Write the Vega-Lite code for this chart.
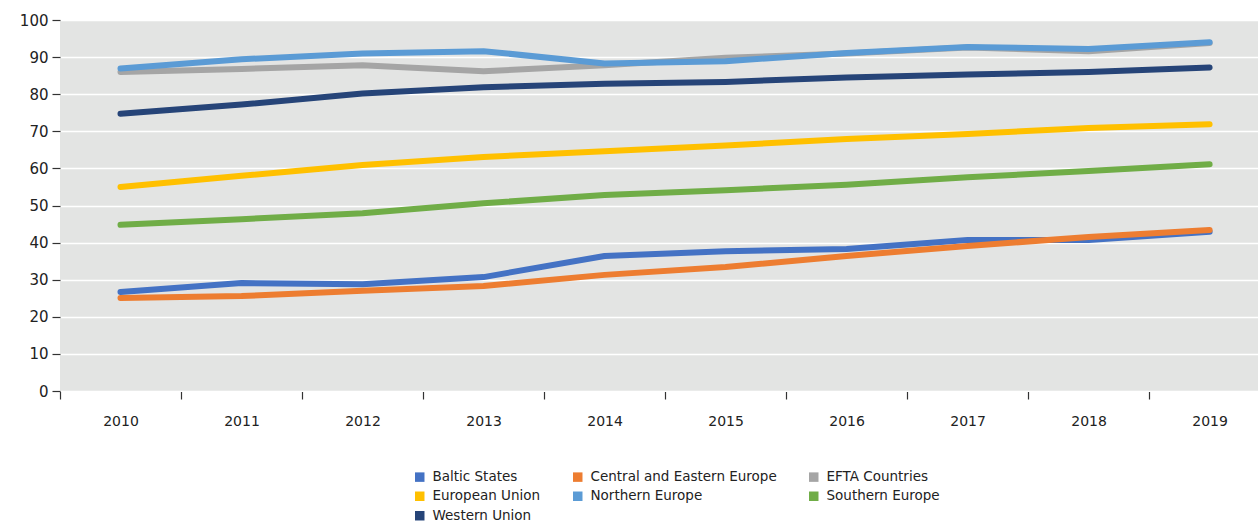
{
  "$schema": "https://vega.github.io/schema/vega-lite/v6.json",
  "width": 1198,
  "height": 371,
  "autosize": {"type": "none"},
  "padding": {"left": 60, "top": 20, "right": 0, "bottom": 131},
  "background": "white",
  "config": {
    "view": {"fill": "#e3e4e3", "stroke": null},
    "font": "DejaVu Sans",
    "axis": {"labelFont": "DejaVu Sans", "labelColor": "#222222", "labelFontSize": 14, "tickColor": "#333333", "titleColor": "#222222"}
  },
  "data": {
    "values": [
      {"year": 2010, "region": "Baltic States", "value": 26.7},
      {"year": 2011, "region": "Baltic States", "value": 29.1},
      {"year": 2012, "region": "Baltic States", "value": 28.8},
      {"year": 2013, "region": "Baltic States", "value": 30.7},
      {"year": 2014, "region": "Baltic States", "value": 36.4},
      {"year": 2015, "region": "Baltic States", "value": 37.7},
      {"year": 2016, "region": "Baltic States", "value": 38.3},
      {"year": 2017, "region": "Baltic States", "value": 40.7},
      {"year": 2018, "region": "Baltic States", "value": 40.7},
      {"year": 2019, "region": "Baltic States", "value": 42.9},
      {"year": 2010, "region": "Central and Eastern Europe", "value": 25.1},
      {"year": 2011, "region": "Central and Eastern Europe", "value": 25.6},
      {"year": 2012, "region": "Central and Eastern Europe", "value": 27.0},
      {"year": 2013, "region": "Central and Eastern Europe", "value": 28.3},
      {"year": 2014, "region": "Central and Eastern Europe", "value": 31.3},
      {"year": 2015, "region": "Central and Eastern Europe", "value": 33.4},
      {"year": 2016, "region": "Central and Eastern Europe", "value": 36.4},
      {"year": 2017, "region": "Central and Eastern Europe", "value": 39.1},
      {"year": 2018, "region": "Central and Eastern Europe", "value": 41.5},
      {"year": 2019, "region": "Central and Eastern Europe", "value": 43.4},
      {"year": 2010, "region": "EFTA Countries", "value": 86.0},
      {"year": 2011, "region": "EFTA Countries", "value": 86.8},
      {"year": 2012, "region": "EFTA Countries", "value": 87.8},
      {"year": 2013, "region": "EFTA Countries", "value": 86.2},
      {"year": 2014, "region": "EFTA Countries", "value": 87.8},
      {"year": 2015, "region": "EFTA Countries", "value": 89.8},
      {"year": 2016, "region": "EFTA Countries", "value": 91.0},
      {"year": 2017, "region": "EFTA Countries", "value": 92.6},
      {"year": 2018, "region": "EFTA Countries", "value": 91.6},
      {"year": 2019, "region": "EFTA Countries", "value": 93.8},
      {"year": 2010, "region": "European Union", "value": 55.0},
      {"year": 2011, "region": "European Union", "value": 58.0},
      {"year": 2012, "region": "European Union", "value": 60.9},
      {"year": 2013, "region": "European Union", "value": 63.1},
      {"year": 2014, "region": "European Union", "value": 64.6},
      {"year": 2015, "region": "European Union", "value": 66.2},
      {"year": 2016, "region": "European Union", "value": 67.9},
      {"year": 2017, "region": "European Union", "value": 69.3},
      {"year": 2018, "region": "European Union", "value": 70.9},
      {"year": 2019, "region": "European Union", "value": 71.9},
      {"year": 2010, "region": "Northern Europe", "value": 86.9},
      {"year": 2011, "region": "Northern Europe", "value": 89.4},
      {"year": 2012, "region": "Northern Europe", "value": 91.0},
      {"year": 2013, "region": "Northern Europe", "value": 91.6},
      {"year": 2014, "region": "Northern Europe", "value": 88.3},
      {"year": 2015, "region": "Northern Europe", "value": 88.9},
      {"year": 2016, "region": "Northern Europe", "value": 91.1},
      {"year": 2017, "region": "Northern Europe", "value": 92.7},
      {"year": 2018, "region": "Northern Europe", "value": 92.2},
      {"year": 2019, "region": "Northern Europe", "value": 94.0},
      {"year": 2010, "region": "Southern Europe", "value": 44.8},
      {"year": 2011, "region": "Southern Europe", "value": 46.3},
      {"year": 2012, "region": "Southern Europe", "value": 47.9},
      {"year": 2013, "region": "Southern Europe", "value": 50.6},
      {"year": 2014, "region": "Southern Europe", "value": 52.8},
      {"year": 2015, "region": "Southern Europe", "value": 54.1},
      {"year": 2016, "region": "Southern Europe", "value": 55.6},
      {"year": 2017, "region": "Southern Europe", "value": 57.6},
      {"year": 2018, "region": "Southern Europe", "value": 59.3},
      {"year": 2019, "region": "Southern Europe", "value": 61.1},
      {"year": 2010, "region": "Western Union", "value": 74.7},
      {"year": 2011, "region": "Western Union", "value": 77.2},
      {"year": 2012, "region": "Western Union", "value": 80.2},
      {"year": 2013, "region": "Western Union", "value": 81.9},
      {"year": 2014, "region": "Western Union", "value": 82.8},
      {"year": 2015, "region": "Western Union", "value": 83.3},
      {"year": 2016, "region": "Western Union", "value": 84.5},
      {"year": 2017, "region": "Western Union", "value": 85.3},
      {"year": 2018, "region": "Western Union", "value": 86.0},
      {"year": 2019, "region": "Western Union", "value": 87.2}
    ]
  },
  "mark": {"type": "line", "strokeWidth": 6, "strokeCap": "round", "strokeJoin": "round", "clip": false},
  "encoding": {
    "x": {
      "field": "year",
      "type": "quantitative",
      "scale": {"domain": [2009.5, 2019.4], "nice": false, "zero": false},
      "axis": {
        "title": null,
        "values": [2009.5, 2010.5, 2011.5, 2012.5, 2013.5, 2014.5, 2015.5, 2016.5, 2017.5, 2018.5],
        "labelExpr": "format(datum.value + 0.5, 'd')",
        "labelOffset": 60.5,
        "labelFlush": false,
        "labelOverlap": false,
        "tickSize": 8,
        "tickWidth": 1.2,
        "tickColor": "#333333",
        "labelPadding": 15,
        "domain": true,
        "domainColor": "#ffffff",
        "domainWidth": 1,
        "grid": false
      }
    },
    "y": {
      "field": "value",
      "type": "quantitative",
      "scale": {"domain": [0, 100], "nice": false},
      "axis": {
        "title": null,
        "values": [0, 10, 20, 30, 40, 50, 60, 70, 80, 90, 100],
        "tickSize": 8,
        "tickWidth": 1.2,
        "tickColor": "#333333",
        "labelPadding": 4,
        "labelFontSize": 15,
        "domain": false,
        "grid": true,
        "gridColor": "#ffffff",
        "gridWidth": 1.5,
        "gridOpacity": 1
      }
    },
    "color": {
      "field": "region",
      "type": "nominal",
      "sort": ["Baltic States", "Central and Eastern Europe", "EFTA Countries", "European Union", "Northern Europe", "Southern Europe", "Western Union"],
      "scale": {
        "domain": ["Baltic States", "Central and Eastern Europe", "EFTA Countries", "European Union", "Northern Europe", "Southern Europe", "Western Union"],
        "range": ["#4472c4", "#ed7d31", "#a5a5a5", "#ffc000", "#5b9bd5", "#70ad47", "#264478"]
      },
      "legend": {
        "title": null,
        "orient": "none",
        "legendX": 353,
        "legendY": 450,
        "direction": "horizontal",
        "columns": 3,
        "symbolType": "square",
        "symbolSize": 90,
        "symbolOpacity": 1,
        "labelFont": "DejaVu Sans",
        "labelFontSize": 13.5,
        "labelLimit": 400,
        "labelColor": "#222222",
        "labelOffset": 6,
        "columnPadding": 30,
        "rowPadding": 4.5,
        "padding": 0,
        "encode": {
          "symbols": {
            "update": {
              "fill": {"scale": "color", "field": "value"},
              "strokeWidth": {"value": 0},
              "opacity": {"value": 1}
            }
          }
        }
      }
    },
    "order": {"field": "year", "type": "quantitative"}
  }
}
